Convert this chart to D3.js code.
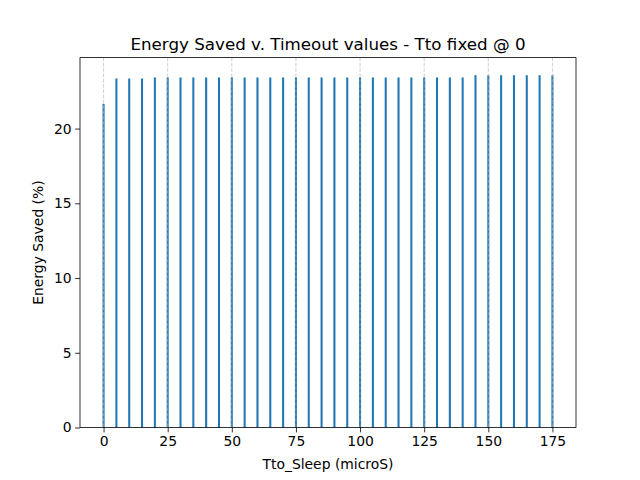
<!DOCTYPE html>
<html><head><meta charset="utf-8">
<script src="https://cdn.jsdelivr.net/npm/d3@7"></script>
<style>body{margin:0;background:#fff}svg{display:block}text{font-family:"DejaVu Sans",sans-serif;fill:#000}</style>
</head><body><svg id="c" width="640" height="480"></svg>
<script>
const timeouts = [0,5,10,15,20,25,30,35,40,45,50,55,60,65,70,75,80,85,90,95,100,105,110,115,120,125,130,135,140,145,150,155,160,165,170,175];
const energySaved = [21.65,23.35,23.35,23.35,23.42,23.42,23.42,23.42,23.42,23.42,23.42,23.42,23.42,23.42,23.42,23.42,23.42,23.42,23.42,23.42,23.42,23.42,23.42,23.42,23.42,23.42,23.42,23.42,23.42,23.57,23.57,23.57,23.57,23.57,23.57,23.57];
const xTicks = [0,25,50,75,100,125,150,175];
const yTicks = [0,5,10,15,20];

const svg = d3.select('#c');
const L=80,R=576,T=57.6,B=427.5;
const bw=0.8;
const x0=d3.min(timeouts)-bw/2, x1=d3.max(timeouts)+bw/2, xm=(x1-x0)*0.05;
const x=d3.scaleLinear().domain([x0-xm,x1+xm]).range([L,R]);
const ymax=d3.max(energySaved)*1.05;
const y=d3.scaleLinear().domain([0,ymax]).range([B,T]);

svg.append('g').selectAll('rect').data(timeouts).join('rect')
 .attr('x',(d)=>x(d-bw/2)).attr('width',(d)=>x(d+bw/2)-x(d-bw/2))
 .attr('y',(d,i)=>y(energySaved[i])).attr('height',(d,i)=>B-y(energySaved[i]))
 .attr('fill','#1f77b4');

svg.append('g').selectAll('line').data(xTicks).join('line')
 .attr('x1',d=>x(d)).attr('x2',d=>x(d)).attr('y1',T).attr('y2',B)
 .attr('stroke','#b0b0b0').attr('stroke-opacity',0.6).attr('stroke-width',1)
 .attr('stroke-dasharray','3.7,1.6');

const tl=4.86;
const xa=svg.append('g').attr('transform',`translate(0,${B})`)
 .call(d3.axisBottom(x).tickValues(xTicks).tickSize(tl).tickPadding(3.5).tickFormat(d3.format('d')));
const ya=svg.append('g').attr('transform',`translate(${L},0)`)
 .call(d3.axisLeft(y).tickValues(yTicks).tickSize(tl).tickPadding(3.5).tickFormat(d3.format('d')));
[xa,ya].forEach(a=>{a.select('.domain').remove();a.selectAll('text').style('font-size','13.9px').style('font-family','DejaVu Sans');a.selectAll('line').attr('stroke','#000').attr('stroke-width',0.8);});

svg.append('rect').attr('x',L).attr('y',T).attr('width',R-L).attr('height',B-T)
 .attr('fill','none').attr('stroke','#000').attr('stroke-width',0.8);

svg.append('text').attr('x',(L+R)/2).attr('y',49.5).attr('text-anchor','middle')
 .style('font-size','16.7px').text('Energy Saved v. Timeout values - Tto fixed @ 0');
svg.append('text').attr('x',(L+R)/2).attr('y',469).attr('text-anchor','middle')
 .style('font-size','13.9px').text('Tto_Sleep (microS)');
svg.append('text').attr('transform',`translate(43,${(T+B)/2}) rotate(-90)`).attr('text-anchor','middle')
 .style('font-size','13.9px').text('Energy Saved (%)');
</script></body></html>
